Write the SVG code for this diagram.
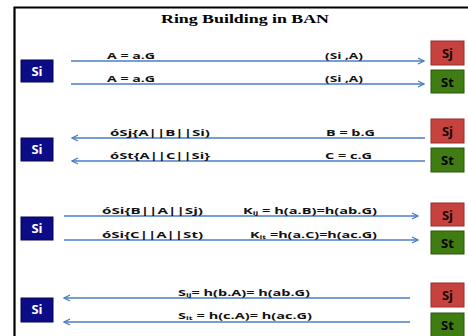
<svg xmlns="http://www.w3.org/2000/svg" width="468" height="336" viewBox="0 0 468 336">
<style>
.si{fill:#0c0c86;stroke:#06064f;stroke-width:1}
.sj{fill:#c6423e;stroke:#9a2c2a;stroke-width:1}
.st{fill:#3f7d12;stroke:#2a560a;stroke-width:1}
.bl{font-family:"Open Sans","Liberation Sans",sans-serif;font-weight:bold;font-size:13px;text-anchor:middle}
.lbl{font-family:"Open Sans","Liberation Sans",sans-serif;font-weight:bold;font-size:9.5px;fill:#111}
.ar{stroke:#4a7cc4;stroke-width:1.6;fill:none}
.sub{font-size:6px}
</style>
<defs>
<marker id="ah" viewBox="0 0 8 8" refX="7" refY="4" markerWidth="8" markerHeight="8" markerUnits="userSpaceOnUse" orient="auto">
<path d="M1,1 L7,4 L1,7" fill="none" stroke="#4a7cc4" stroke-width="1.3"/>
</marker>
</defs>
<rect width="468" height="336" fill="#fff"/>
<path d="M14.5,336 V7.5 H468" fill="none" stroke="#000" stroke-width="2.2"/>
<text x="245" y="23" font-family="Liberation Serif,serif" font-weight="bold" font-size="13.5" text-anchor="middle" textLength="168" lengthAdjust="spacingAndGlyphs">Ring Building in BAN</text>

<g id="connectors">
<line class="ar" x1="71" y1="61" x2="424" y2="61" marker-end="url(#ah)"/>
<line class="ar" x1="71" y1="84" x2="424" y2="84" marker-end="url(#ah)"/>
<line class="ar" x1="425" y1="138" x2="72" y2="138" marker-end="url(#ah)"/>
<line class="ar" x1="425" y1="161" x2="72" y2="161" marker-end="url(#ah)"/>
<line class="ar" x1="64" y1="216" x2="418" y2="216" marker-end="url(#ah)"/>
<line class="ar" x1="64" y1="240" x2="418" y2="240" marker-end="url(#ah)"/>
<line class="ar" x1="410" y1="298" x2="64" y2="298" marker-end="url(#ah)"/>
<line class="ar" x1="410" y1="322" x2="64" y2="322" marker-end="url(#ah)"/>
<text class="lbl" x="107" y="59" textLength="48" lengthAdjust="spacingAndGlyphs">A = a.G</text>
<text class="lbl" x="325" y="59" textLength="38" lengthAdjust="spacingAndGlyphs">(Si ,A)</text>
<text class="lbl" x="107" y="82" textLength="48" lengthAdjust="spacingAndGlyphs">A = a.G</text>
<text class="lbl" x="325" y="82" textLength="38" lengthAdjust="spacingAndGlyphs">(Si ,A)</text>
<text class="lbl" x="110" y="136" textLength="100" lengthAdjust="spacingAndGlyphs">óSj{A||B||Si)</text>
<text class="lbl" x="326" y="136" textLength="49" lengthAdjust="spacingAndGlyphs">B = b.G</text>
<text class="lbl" x="110" y="159" textLength="100" lengthAdjust="spacingAndGlyphs">óSt{A||C||Si}</text>
<text class="lbl" x="325" y="159" textLength="47" lengthAdjust="spacingAndGlyphs">C = c.G</text>
<text class="lbl" x="102" y="214" textLength="101" lengthAdjust="spacingAndGlyphs">óSi{B||A||Sj)</text>
<text class="lbl" x="243" y="214" textLength="134" lengthAdjust="spacingAndGlyphs">K<tspan class="sub" dy="1">ij</tspan><tspan dy="-1"> = h(a.B)=h(ab.G)</tspan></text>
<text class="lbl" x="102" y="238" textLength="101" lengthAdjust="spacingAndGlyphs">óSi{C||A||St)</text>
<text class="lbl" x="250" y="238" textLength="127" lengthAdjust="spacingAndGlyphs">K<tspan class="sub" dy="1">it</tspan><tspan dy="-1"> =h(a.C)=h(ac.G)</tspan></text>
<text class="lbl" x="178" y="296" textLength="132" lengthAdjust="spacingAndGlyphs">S<tspan class="sub" dy="1">ij</tspan><tspan dy="-1">= h(b.A)= h(ab.G)</tspan></text>
<text class="lbl" x="178" y="319" textLength="134" lengthAdjust="spacingAndGlyphs">S<tspan class="sub" dy="1">it</tspan><tspan dy="-1"> = h(c.A)= h(ac.G)</tspan></text>
</g>

<g id="si1"><rect class="si" x="21" y="60" width="32" height="22"/><text class="bl" x="37" y="76" fill="#fff">Si</text></g>
<g id="sj1"><rect class="sj" x="431" y="41" width="33" height="24"/><text class="bl" x="447.5" y="58" fill="#1a0505">Sj</text></g>
<g id="st1"><rect class="st" x="431" y="70" width="33" height="23"/><text class="bl" x="447.5" y="87" fill="#000">St</text></g>

<g id="si2"><rect class="si" x="21" y="138" width="32" height="23"/><text class="bl" x="37" y="154" fill="#fff">Si</text></g>
<g id="sj2"><rect class="sj" x="431" y="119" width="33" height="24"/><text class="bl" x="447.5" y="136" fill="#1a0505">Sj</text></g>
<g id="st2"><rect class="st" x="431" y="148" width="33" height="24"/><text class="bl" x="447.5" y="165" fill="#000">St</text></g>

<g id="si3"><rect class="si" x="21" y="217" width="32" height="23"/><text class="bl" x="37" y="233" fill="#fff">Si</text></g>
<g id="sj3"><rect class="sj" x="431" y="203" width="33" height="23"/><text class="bl" x="447.5" y="220" fill="#1a0505">Sj</text></g>
<g id="st3"><rect class="st" x="431" y="231" width="33" height="23"/><text class="bl" x="447.5" y="248" fill="#000">St</text></g>

<g id="si4"><rect class="si" x="21" y="298" width="32" height="24"/><text class="bl" x="37" y="314" fill="#fff">Si</text></g>
<g id="sj4"><rect class="sj" x="431" y="283" width="33" height="24"/><text class="bl" x="447.5" y="300" fill="#1a0505">Sj</text></g>
<g id="st4"><rect class="st" x="431" y="313" width="33" height="24"/><text class="bl" x="447.5" y="330" fill="#000">St</text></g>
</svg>
